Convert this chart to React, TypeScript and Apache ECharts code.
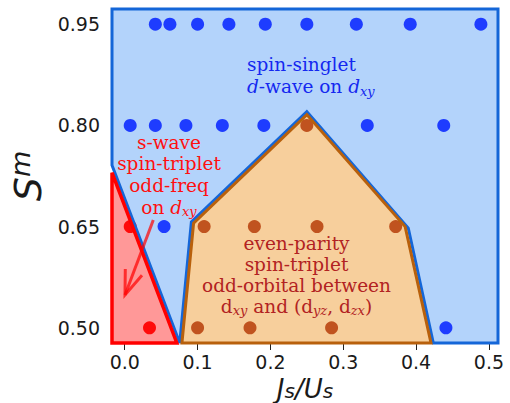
import React, { useEffect, useRef } from "react";
import * as echarts from "echarts";

// Axis ticks
const xTicks = [0, 0.1, 0.2, 0.3, 0.4, 0.5];
const yTicks = [0.5, 0.65, 0.8, 0.95];

// Data points (Js/Us, S^m)
const singletDots = [
  [0.042, 0.95], [0.062, 0.95], [0.1, 0.95], [0.143, 0.95], [0.193, 0.95],
  [0.25, 0.95], [0.318, 0.95], [0.392, 0.95], [0.489, 0.95],
  [0.0075, 0.8], [0.042, 0.8], [0.084, 0.8], [0.134, 0.8], [0.191, 0.8],
  [0.333, 0.8], [0.438, 0.8],
  [0.054, 0.65],
  [0.441, 0.5],
];
const evenParityDots = [
  [0.25, 0.8],
  [0.109, 0.65], [0.178, 0.65], [0.264, 0.65], [0.372, 0.65],
  [0.1, 0.5], [0.172, 0.5], [0.284, 0.5],
];
const oddFreqDots = [
  [0.0075, 0.65],
  [0.034, 0.5],
];

// Phase regions
const singletRegion = [
  [-0.0175, 0.9725], [0.5125, 0.9725], [0.5125, 0.4775], [0.4237, 0.4775],
  [0.3893, 0.6475], [0.25, 0.8202], [0.0915, 0.657], [0.0755, 0.4775],
  [-0.0175, 0.741],
];
const oddFreqRegion = [
  [-0.0175, 0.73], [0.0715, 0.4775], [-0.0175, 0.4775],
];
const evenParityRegion = [
  [0.0785, 0.4775], [0.0945, 0.655], [0.25, 0.816], [0.385, 0.65], [0.4205, 0.4775],
];

const SERIF = "'DejaVu Serif', serif";
const SANS = "'DejaVu Sans', sans-serif";

function polygonSeries(region: number[][], fill: string, stroke: string, lw: number, outline: boolean) {
  return {
    type: "custom",
    z: outline ? 4 : 1,
    silent: true,
    data: [[0.25, 0.7]],
    renderItem: (_params: any, api: any) => ({
      type: "polygon",
      shape: { points: region.map((p) => api.coord(p)) },
      style: outline
        ? { fill: "none", stroke, lineWidth: lw, lineJoin: "miter" }
        : { fill, stroke: "none" },
    }),
  };
}

export default function App() {
  const ref = useRef<HTMLDivElement>(null);
  useEffect(() => {
    if (!ref.current) return;
    document.body.style.margin = "0";
    const chart = echarts.init(ref.current, undefined, { renderer: "svg" });
    const subStyle = (color: string) => ({
      fontFamily: SERIF, fontSize: 13, fontStyle: "italic", color,
      lineHeight: 9, verticalAlign: "bottom",
    });
    const itStyle = (color: string, size: number) => ({
      fontFamily: SERIF, fontSize: size, fontStyle: "italic", color,
    });
    const blueTxt = "#1428f0";
    const redTxt = "#ff1010";
    const brickTxt = "#b22222";

    // arrow geometry (pixel annotation)
    const ax0 = 153.3, ay0 = 220, ax1 = 125, ay1 = 295;

    chart.setOption({
      animation: false,
      grid: { left: 112, right: 12, top: 9, bottom: 60, outerBoundsMode: "none", containLabel: false },
      xAxis: {
        type: "value",
        min: -0.0175,
        max: 0.5125,
        axisLine: { show: false },
        splitLine: { show: false },
        axisTick: { show: true, customValues: xTicks, length: 7, lineStyle: { color: "#222", width: 1 } },
        axisLabel: {
          customValues: xTicks,
          formatter: (v: number) => v.toFixed(1),
          fontFamily: SANS, fontSize: 19, color: "#1a1a1a", margin: 9,
        },
        name: "{a|J}{b|s}{a|/U}{b|s}",
        nameLocation: "middle",
        nameGap: 24,
        nameTextStyle: {
          fontFamily: SANS, fontSize: 25, fontStyle: "italic", color: "#1a1a1a",
          rich: {
            a: { fontFamily: SANS, fontSize: 26, fontStyle: "italic", color: "#1a1a1a", lineHeight: 24 },
            b: { fontFamily: SANS, fontSize: 20, fontStyle: "italic", color: "#1a1a1a", lineHeight: 15, verticalAlign: "bottom" },
          },
        },
      },
      yAxis: {
        type: "value",
        min: 0.4775,
        max: 0.9725,
        axisLine: { show: false },
        splitLine: { show: false },
        axisTick: { show: true, customValues: yTicks, length: 7, lineStyle: { color: "#222", width: 1 } },
        axisLabel: {
          customValues: yTicks,
          formatter: (v: number) => v.toFixed(2),
          fontFamily: SANS, fontSize: 19, color: "#1a1a1a", margin: 12,
        },
        name: "{a|S}{b|m}",
        nameLocation: "middle",
        nameGap: 62,
        nameTextStyle: {
          fontFamily: SANS, fontSize: 36, fontStyle: "italic", color: "#1a1a1a",
          rich: {
            a: { fontFamily: SANS, fontSize: 38, fontStyle: "italic", color: "#1a1a1a", lineHeight: 42 },
            b: { fontFamily: SANS, fontSize: 27, fontStyle: "italic", color: "#1a1a1a", lineHeight: 26, verticalAlign: "top" },
          },
        },
      },
      series: [
        polygonSeries(singletRegion, "#b3d3fb", "#1466d8", 3, false),
        polygonSeries(oddFreqRegion, "#ff9898", "#ff0000", 3.5, false),
        polygonSeries(evenParityRegion, "#f7cf9c", "#b8600c", 3, false),
        { type: "scatter", z: 3, data: singletDots, symbolSize: 13, itemStyle: { color: "#1e3cff", opacity: 1 } },
        { type: "scatter", z: 3, data: evenParityDots, symbolSize: 13, itemStyle: { color: "#c0531f", opacity: 1 } },
        { type: "scatter", z: 3, data: oddFreqDots, symbolSize: 13, itemStyle: { color: "#ff0a0a", opacity: 1 } },
        polygonSeries(singletRegion, "", "#1466d8", 3, true),
        polygonSeries(oddFreqRegion, "", "#ff0000", 3.5, true),
        polygonSeries(evenParityRegion, "", "#b8600c", 3, true),
      ],
      graphic: [
        {
          type: "text", x: 247, y: 53, z: 100,
          style: {
            text: "spin-singlet\n{i|d}-wave on {i|d}{s|xy}",
            fontFamily: SERIF, fontSize: 18.5, fill: blueTxt, lineHeight: 22.6,
            align: "left", verticalAlign: "top",
            rich: { i: { ...itStyle(blueTxt, 18.5), lineHeight: 22.6 }, s: subStyle(blueTxt) },
          },
        },
        {
          type: "text", x: 169, y: 131.3, z: 100,
          style: {
            text: "s-wave\nspin-triplet\nodd-freq\non {i|d}{s|xy}",
            fontFamily: SERIF, fontSize: 18.5, fill: redTxt, lineHeight: 21.7,
            align: "center", verticalAlign: "top",
            rich: { i: { ...itStyle(redTxt, 18.5), lineHeight: 21.7 }, s: subStyle(redTxt) },
          },
        },
        {
          type: "text", x: 296.5, y: 233.5, z: 100,
          style: {
            text: "even-parity\nspin-triplet\nodd-orbital between\nd{s|xy} and (d{s|yz}, d{s|zx})",
            fontFamily: SERIF, fontSize: 18.5, fill: brickTxt, lineHeight: 20.8,
            align: "center", verticalAlign: "top",
            rich: { s: subStyle(brickTxt) },
          },
        },
        {
          type: "line", z: 100,
          shape: { x1: ax0, y1: ay0, x2: ax1, y2: ay1 },
          style: { stroke: "rgba(255,0,0,0.7)", lineWidth: 3 },
        },
        {
          type: "polyline", z: 100,
          shape: { points: [[142, 275.3], [ax1, ay1], [125.3, 269]] },
          style: { stroke: "rgba(255,0,0,0.7)", lineWidth: 3, fill: "none" },
        },
      ],
    });
    return () => chart.dispose();
  }, []);
  return <div ref={ref} style={{ width: 510, height: 403 }} />;
}
